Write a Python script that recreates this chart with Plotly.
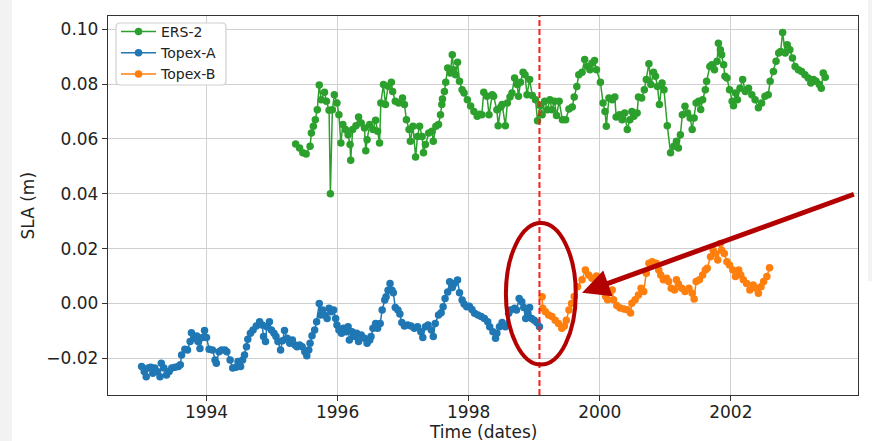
import plotly.graph_objects as go

# ---------------- data (decimal years, SLA in m) ----------------
ers_year = [1995.36,1995.42,1995.47,1995.52,1995.58,1995.60,1995.63,1995.66,1995.69,1995.72,
            1995.75,1995.80,1995.83,1995.87,1995.89,1995.92,1995.95,1995.99,1996.02,1996.05,
            1996.08,1996.12,1996.16,1996.19,1996.20,1996.23,1996.28,1996.32,1996.36,1996.41,
            1996.43,1996.45,1996.49,1996.54,1996.58,1996.61,1996.64,1996.66,1996.70,1996.73,
            1996.77,1996.82,1996.84,1996.88,1996.93,1996.99,1997.02,1997.05,1997.09,1997.11,
            1997.15,1997.19,1997.22,1997.25,1997.29,1997.31,1997.34,1997.39,1997.44,1997.46,
            1997.50,1997.54,1997.57,1997.59,1997.60,1997.63,1997.65,1997.68,1997.72,1997.75,
            1997.77,1997.80,1997.83,1997.86,1997.90,1997.93,1997.98,1998.03,1998.08,1998.13,
            1998.17,1998.20,1998.23,1998.28,1998.31,1998.36,1998.38,1998.43,1998.45,1998.49,
            1998.51,1998.56,1998.59,1998.63,1998.66,1998.70,1998.74,1998.76,1998.79,1998.83,
            1998.86,1998.89,1998.93,1998.97,1999.02,1999.05,1999.09,1999.12,1999.16,1999.20,
            1999.24,1999.27,1999.31,1999.34,1999.38,1999.43,1999.48,1999.53,1999.58,1999.61,
            1999.65,1999.68,1999.73,1999.77,1999.81,1999.85,1999.88,1999.92,1999.95,2000.01,
            2000.05,2000.08,2000.10,2000.14,2000.19,2000.23,2000.25,2000.30,2000.34,2000.38,
            2000.42,2000.46,2000.49,2000.52,2000.57,2000.59,2000.64,2000.68,2000.71,2000.75,
            2000.78,2000.82,2000.85,2000.88,2000.91,2000.95,2000.98,2001.03,2001.08,2001.13,
            2001.17,2001.20,2001.23,2001.26,2001.30,2001.34,2001.38,2001.41,2001.44,2001.47,
            2001.51,2001.54,2001.57,2001.61,2001.63,2001.68,2001.71,2001.75,2001.79,2001.81,
            2001.84,2001.86,2001.89,2001.91,2001.94,2001.98,2002.02,2002.04,2002.07,2002.10,
            2002.14,2002.18,2002.22,2002.27,2002.32,2002.37,2002.42,2002.47,2002.52,2002.57,
            2002.60,2002.65,2002.69,2002.73,2002.76,2002.79,2002.83,2002.86,2002.90,2002.94,
            2002.98,2003.03,2003.08,2003.13,2003.18,2003.22,2003.26,2003.30,2003.35,2003.38,
            2003.41,2003.44]
ers_sla = [0.0581,0.0567,0.0549,0.0545,0.0573,0.0621,0.0646,0.0670,0.0706,0.0796,
           0.0743,0.0770,0.0737,0.0704,0.0400,0.0706,0.0761,0.0731,0.0688,0.0585,
           0.0652,0.0634,0.0615,0.0579,0.0522,0.0634,0.0648,0.0680,0.0658,0.0640,
           0.0557,0.0597,0.0652,0.0634,0.0668,0.0628,0.0585,0.0731,0.0798,0.0725,
           0.0792,0.0806,0.0773,0.0737,0.0731,0.0749,0.0725,0.0670,0.0634,0.0591,
           0.0646,0.0534,0.0609,0.0646,0.0609,0.0549,0.0579,0.0621,0.0628,0.0591,
           0.0646,0.0652,0.0688,0.0725,0.0745,0.0773,0.0806,0.0858,0.0840,0.0907,
           0.0852,0.0834,0.0879,0.0810,0.0779,0.0767,0.0743,0.0720,0.0700,0.0682,
           0.0690,0.0688,0.0770,0.0755,0.0688,0.0761,0.0755,0.0706,0.0648,0.0716,
           0.0725,0.0648,0.0731,0.0753,0.0767,0.0822,0.0798,0.0755,0.0806,0.0843,
           0.0834,0.0761,0.0816,0.0758,0.0743,0.0666,0.0722,0.0688,0.0737,0.0706,
           0.0743,0.0706,0.0737,0.0685,0.0737,0.0670,0.0670,0.0709,0.0716,0.0753,
           0.0791,0.0834,0.0843,0.0889,0.0864,0.0852,0.0876,0.0886,0.0852,0.0806,
           0.0731,0.0700,0.0646,0.0749,0.0743,0.0753,0.0680,0.0688,0.0670,0.0694,
           0.0634,0.0670,0.0700,0.0682,0.0694,0.0753,0.0749,0.0779,0.0816,0.0874,
           0.0798,0.0843,0.0828,0.0791,0.0725,0.0804,0.0779,0.0648,0.0549,0.0573,
           0.0591,0.0567,0.0615,0.0688,0.0719,0.0694,0.0676,0.0634,0.0676,0.0731,
           0.0737,0.0707,0.0743,0.0779,0.0810,0.0864,0.0870,0.0852,0.0883,0.0949,
           0.0925,0.0907,0.0870,0.0828,0.0822,0.0779,0.0737,0.0721,0.0767,0.0743,
           0.0785,0.0816,0.0773,0.0785,0.0761,0.0743,0.0713,0.0731,0.0755,0.0761,
           0.0810,0.0846,0.0883,0.0913,0.0919,0.0988,0.0913,0.0943,0.0925,0.0895,
           0.0864,0.0852,0.0846,0.0834,0.0822,0.0804,0.0816,0.0810,0.0798,0.0785,
           0.0840,0.0825]

topa_year = [1993.01,1993.05,1993.08,1993.11,1993.15,1993.18,1993.21,1993.25,1993.29,1993.31,
             1993.35,1993.39,1993.43,1993.47,1993.52,1993.57,1993.60,1993.62,1993.67,1993.71,
             1993.75,1993.77,1993.81,1993.85,1993.87,1993.90,1993.94,1993.97,1994.00,1994.04,
             1994.09,1994.13,1994.15,1994.19,1994.23,1994.28,1994.31,1994.36,1994.40,1994.45,
             1994.48,1994.52,1994.55,1994.58,1994.61,1994.63,1994.67,1994.71,1994.76,1994.81,
             1994.85,1994.87,1994.90,1994.92,1994.96,1994.99,1995.03,1995.06,1995.09,1995.13,
             1995.16,1995.19,1995.23,1995.27,1995.31,1995.35,1995.38,1995.42,1995.46,1995.50,
             1995.53,1995.56,1995.58,1995.61,1995.65,1995.68,1995.72,1995.74,1995.77,1995.80,
             1995.84,1995.87,1995.90,1995.94,1995.97,1995.99,1996.02,1996.06,1996.09,1996.13,
             1996.16,1996.18,1996.22,1996.26,1996.29,1996.32,1996.36,1996.41,1996.45,1996.49,
             1996.51,1996.54,1996.58,1996.61,1996.65,1996.68,1996.72,1996.74,1996.77,1996.80,
             1996.83,1996.85,1996.88,1996.92,1996.95,1996.98,1997.02,1997.07,1997.12,1997.17,
             1997.22,1997.27,1997.30,1997.34,1997.38,1997.43,1997.46,1997.49,1997.54,1997.58,
             1997.61,1997.64,1997.68,1997.71,1997.75,1997.78,1997.83,1997.86,1997.90,1997.93,
             1997.97,1998.01,1998.05,1998.09,1998.14,1998.19,1998.24,1998.29,1998.32,1998.37,
             1998.41,1998.43,1998.47,1998.51,1998.56,1998.61,1998.64,1998.70,1998.73,1998.77,
             1998.81,1998.84,1998.87,1998.90,1998.93,1998.96,1999.00,1999.04,1999.08]
topa_sla = [-0.0230,-0.0248,-0.0267,-0.0236,-0.0233,-0.0255,-0.0236,-0.0248,-0.0267,-0.0218,
            -0.0236,-0.0261,-0.0248,-0.0236,-0.0233,-0.0230,-0.0224,-0.0188,-0.0167,-0.0170,
            -0.0139,-0.0107,-0.0127,-0.0119,-0.0139,-0.0164,-0.0124,-0.0099,-0.0124,-0.0167,
            -0.0170,-0.0206,-0.0218,-0.0176,-0.0170,-0.0170,-0.0176,-0.0206,-0.0236,-0.0233,
            -0.0212,-0.0230,-0.0206,-0.0188,-0.0158,-0.0131,-0.0109,-0.0097,-0.0082,-0.0067,
            -0.0079,-0.0121,-0.0139,-0.0085,-0.0067,-0.0097,-0.0109,-0.0121,-0.0139,-0.0170,
            -0.0136,-0.0099,-0.0127,-0.0145,-0.0133,-0.0152,-0.0158,-0.0152,-0.0158,-0.0176,
            -0.0191,-0.0170,-0.0145,-0.0118,-0.0097,-0.0067,0.0000,-0.0042,-0.0024,-0.0042,
            -0.0055,-0.0018,-0.0030,-0.0024,-0.0055,-0.0079,-0.0097,-0.0109,-0.0091,-0.0103,
            -0.0085,-0.0133,-0.0103,-0.0121,-0.0109,-0.0139,-0.0115,-0.0127,-0.0145,-0.0133,
            -0.0121,-0.0091,-0.0073,-0.0091,-0.0073,-0.0024,0.0012,0.0024,0.0048,0.0073,
            0.0048,0.0039,-0.0015,-0.0024,-0.0039,-0.0070,-0.0082,-0.0079,-0.0082,-0.0091,
            -0.0085,-0.0103,-0.0124,-0.0085,-0.0079,-0.0097,-0.0121,-0.0073,-0.0042,-0.0034,
            -0.0012,0.0018,0.0042,0.0079,0.0058,0.0073,0.0085,0.0039,0.0012,-0.0002,
            -0.0012,-0.0010,-0.0022,-0.0036,-0.0042,-0.0048,-0.0055,-0.0067,-0.0085,-0.0103,
            -0.0127,-0.0109,-0.0085,-0.0070,-0.0085,-0.0036,-0.0024,-0.0018,-0.0024,0.0018,
            0.0006,-0.0015,-0.0055,-0.0036,-0.0015,-0.0055,-0.0061,-0.0070,-0.0085]

topb_year = [1999.12,1999.13,1999.17,1999.22,1999.27,1999.32,1999.37,1999.42,1999.46,1999.49,
             1999.53,1999.57,1999.61,1999.66,1999.73,1999.78,1999.83,1999.88,1999.95,2000.00,
             2000.04,2000.09,2000.12,2000.19,2000.21,2000.26,2000.31,2000.37,2000.42,2000.47,
             2000.49,2000.54,2000.59,2000.63,2000.67,2000.71,2000.75,2000.80,2000.86,2000.90,
             2000.93,2000.97,2001.02,2001.05,2001.09,2001.14,2001.17,2001.20,2001.25,2001.30,
             2001.36,2001.41,2001.44,2001.47,2001.52,2001.57,2001.61,2001.64,2001.69,2001.73,
             2001.76,2001.80,2001.84,2001.86,2001.90,2001.94,2001.98,2002.03,2002.07,2002.12,
             2002.15,2002.19,2002.24,2002.29,2002.34,2002.39,2002.42,2002.46,2002.50,2002.55,
             2002.59]
topb_sla = [0.0024,-0.0018,-0.0030,-0.0042,-0.0048,-0.0061,-0.0073,-0.0091,-0.0082,-0.0061,
            -0.0024,0.0000,0.0025,0.0061,0.0086,0.0122,0.0104,0.0092,0.0100,0.0080,
            0.0055,0.0025,0.0013,0.0049,0.0013,-0.0008,-0.0017,-0.0020,-0.0023,-0.0035,
            0.0001,0.0013,0.0031,0.0055,0.0043,0.0110,0.0146,0.0152,0.0146,0.0122,
            0.0104,0.0086,0.0092,0.0080,0.0055,0.0049,0.0086,0.0071,0.0055,0.0043,
            0.0055,0.0037,0.0016,0.0080,0.0086,0.0104,0.0122,0.0128,0.0170,0.0194,
            0.0182,0.0158,0.0218,0.0194,0.0182,0.0152,0.0140,0.0122,0.0098,0.0122,
            0.0104,0.0086,0.0073,0.0049,0.0067,0.0055,0.0037,0.0061,0.0080,0.0098,
            0.0130]

split_year = 1999.08
x_ticks = [1994, 1996, 1998, 2000, 2002]
y_ticks = [-0.02, 0.00, 0.02, 0.04, 0.06, 0.08, 0.10]
x_range = [1992.497, 2003.94]
y_range = [-0.0334, 0.1048]

# highlight annotations (ellipse around the switch, arrow pointing to it)
ellipse_x = [1998.568, 1999.634]
ellipse_y = [-0.0223, 0.0293]
arrow_tail = (2003.90, 0.0400)
arrow_tip = (1999.73, 0.0039)

FONT = "DejaVu Sans"
TXT = "#222222"
DARKRED = "#b30000"

fig = go.Figure()
for name, xs, ys, col in [("ERS-2", ers_year, ers_sla, "#2ca02c"),
                          ("Topex-A", topa_year, topa_sla, "#1f77b4"),
                          ("Topex-B", topb_year, topb_sla, "#ff7f0e")]:
    fig.add_trace(go.Scatter(x=xs, y=ys, name=name, mode="lines+markers",
                             line=dict(color=col, width=1.5),
                             marker=dict(color=col, size=7.5)))

fig.add_shape(type="line", xref="x", yref="paper", x0=split_year, x1=split_year, y0=0, y1=1,
              line=dict(color="#ff1a1a", width=2, dash="6px,3px"))
fig.add_shape(type="circle", xref="x", yref="y", x0=ellipse_x[0], x1=ellipse_x[1],
              y0=ellipse_y[0], y1=ellipse_y[1], line=dict(color=DARKRED, width=4))
fig.add_annotation(x=arrow_tip[0], y=arrow_tip[1], ax=arrow_tail[0], ay=arrow_tail[1],
                   xref="x", yref="y", axref="x", ayref="y", text="", showarrow=True,
                   arrowhead=2, arrowsize=1.1, arrowwidth=5, arrowcolor=DARKRED, standoff=0)

# screenshot side strips
fig.add_shape(type="rect", xref="paper", yref="paper", x0=-0.144, x1=-0.128, y0=-0.13, y1=1.05,
              fillcolor="#f2f2f2", line=dict(width=0), layer="below")
fig.add_shape(type="rect", xref="paper", yref="paper", x0=1.0133, x1=1.03, y0=0.3, y1=1.05,
              fillcolor="#f2f2f2", line=dict(width=0), layer="below")

# legend frame (rounded box)
lx0, lx1, ly0, ly1 = 0.0107, 0.1573, 0.818, 0.9815
rx, ry = 0.0053, 0.0106
legend_path = (f"M {lx0+rx},{ly0} L {lx1-rx},{ly0} Q {lx1},{ly0} {lx1},{ly0+ry} "
               f"L {lx1},{ly1-ry} Q {lx1},{ly1} {lx1-rx},{ly1} L {lx0+rx},{ly1} "
               f"Q {lx0},{ly1} {lx0},{ly1-ry} L {lx0},{ly0+ry} Q {lx0},{ly0} {lx0+rx},{ly0} Z")
fig.add_shape(type="path", xref="paper", yref="paper", path=legend_path,
              fillcolor="white", line=dict(color="#cfcfcf", width=1.2), layer="above")

axis_common = dict(showline=True, linecolor="#333333", linewidth=1.3, mirror=True,
                   showgrid=True, gridcolor="#d0d0d0", gridwidth=1.2, zeroline=False,
                   ticks="outside", ticklen=5, tickwidth=1.2, tickcolor="#333333",
                   automargin=False,
                   tickfont=dict(family=FONT, size=17, color=TXT))

fig.add_annotation(text="Time (dates)", xref="paper", yref="paper", x=0.5, y=-0.097,
                   xanchor="center", yanchor="middle", showarrow=False,
                   font=dict(family=FONT, size=17, color=TXT))
fig.add_annotation(text="SLA (m)", xref="paper", yref="paper", x=-0.108, y=0.5,
                   xanchor="center", yanchor="middle", showarrow=False, textangle=-90,
                   font=dict(family=FONT, size=17, color=TXT))

fig.update_layout(
    width=872, height=441,
    margin=dict(l=108, r=14, t=16, b=46),
    paper_bgcolor="white", plot_bgcolor="white",
    font=dict(family=FONT, color=TXT),
    xaxis=dict(range=x_range, tickvals=x_ticks, ticktext=[str(t) for t in x_ticks],
               ticklabelstandoff=-4, **axis_common),
    yaxis=dict(range=y_range, tickvals=y_ticks, tickformat=".2f", **axis_common),
    legend=dict(x=0.0107, y=1.0, xanchor="left", yanchor="top",
                bgcolor="rgba(0,0,0,0)", borderwidth=0,
                font=dict(family=FONT, size=14, color=TXT), itemwidth=35,
                tracegroupgap=0),
    showlegend=True,
)

fig.write_html("out.html")
